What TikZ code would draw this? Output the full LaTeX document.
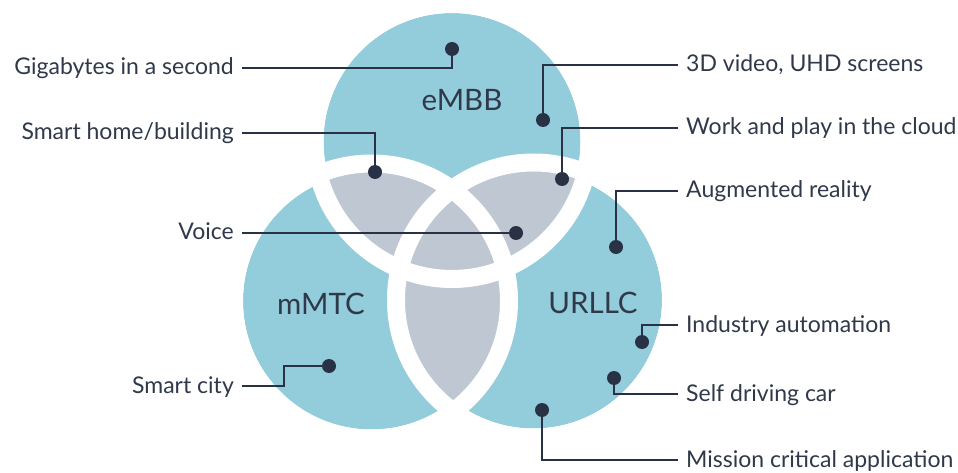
\documentclass[tikz,border=0pt]{standalone}
\usepackage{fontspec}
\setmainfont{Lato}
\usepackage{tikz}
\usepackage{xcolor}
\definecolor{setblue}{HTML}{93CDDB}
\definecolor{overlapgray}{HTML}{BFC8D2}
\definecolor{inkdark}{HTML}{283244}
\definecolor{textdark}{HTML}{2F3949}
\tikzset{
    venn-set/.style = {fill=setblue},
    overlap-fill/.style = {fill=overlapgray},
    white-ring/.style = {draw=white, line width=18pt},
    leader-dot/.style = {circle, fill=inkdark, inner sep=0pt, minimum size=14pt},
    leader-line/.style = {draw=inkdark, line width=2pt, shorten <=8pt},
    item-label/.style = {text=textdark, inner sep=0pt, text height=16pt, text depth=2pt, font=\fontsize{23}{27}\selectfont},
    set-label/.style = {text=textdark, inner sep=0pt, font=\fontsize{29.5}{34}\selectfont},
}

\begin{document}
\begin{tikzpicture}[x=1pt, y=-1pt]
\useasboundingbox (0,0) rectangle (958,473);
\def\setradius{128.5}
\coordinate (embb) at (452,141.5);
\coordinate (mmtc) at (371.5,301);
\coordinate (urllc) at (533.5,300);

% the three sets
\foreach \s in {embb, mmtc, urllc}
    \fill[venn-set] (\s) circle (\setradius);
\begin{scope}
    \clip (embb) circle (\setradius);
    \fill[overlap-fill] (mmtc) circle (\setradius);
    \fill[overlap-fill] (urllc) circle (\setradius);
\end{scope}
\begin{scope}
    \clip (mmtc) circle (\setradius);
    \fill[overlap-fill] (urllc) circle (\setradius);
\end{scope}
\foreach \s in {embb, mmtc, urllc}
    \draw[white-ring] (\s) circle (\setradius+9);

\node[set-label] at (462,100) {eMBB};
\node[set-label] at (321,304) {mMTC};
\node[set-label] at (593,303) {URLLC};

% dots
\node[leader-dot] (d-gig) at (452,49) {};
\node[leader-dot] (d-3d) at (543,120) {};
\node[leader-dot] (d-home) at (375,172) {};
\node[leader-dot] (d-work) at (562,179) {};
\node[leader-dot] (d-aug) at (616,247) {};
\node[leader-dot] (d-voice) at (516,233) {};
\node[leader-dot] (d-ind) at (642,342) {};
\node[leader-dot] (d-self) at (614,378) {};
\node[leader-dot] (d-miss) at (542,410) {};
\node[leader-dot] (d-city) at (329,366) {};
\coordinate (c-city) at (284,376);

% labels
\node[item-label, anchor=east] (l-gig) at (234,68) {Gigabytes in a second};
\node[item-label, anchor=east] (l-home) at (234,133) {Smart home/building};
\node[item-label, anchor=east] (l-voice) at (234,233) {Voice};
\node[item-label, anchor=east] (l-city) at (234,386) {Smart city};
\node[item-label, anchor=west] (l-3d) at (686,65) {3D video, UHD screens};
\node[item-label, anchor=west] (l-work) at (686,128) {Work and play in the cloud};
\node[item-label, anchor=west] (l-aug) at (686,191) {Augmented reality};
\node[item-label, anchor=west] (l-ind) at (686,325) {Industry automation};
\node[item-label, anchor=west] (l-self) at (686,394) {Self driving car};
\node[item-label, anchor=west] (l-miss) at (686,460) {Mission critical application};

% leaders
\draw[leader-line] (l-gig) -| (d-gig);
\draw[leader-line] (l-home) -| (d-home);
\draw[leader-line] (l-voice) -- (d-voice);
\draw[leader-line] (l-city) -| (c-city) |- (d-city);
\draw[leader-line] (l-3d) -| (d-3d);
\draw[leader-line] (l-work) -| (d-work);
\draw[leader-line] (l-aug) -| (d-aug);
\draw[leader-line] (l-ind) -| (d-ind);
\draw[leader-line, shorten <=0pt, shorten >=8pt] (d-self) |- (l-self);
\draw[leader-line, shorten <=0pt, shorten >=8pt] (d-miss) |- (l-miss);
\end{tikzpicture}
\end{document}
